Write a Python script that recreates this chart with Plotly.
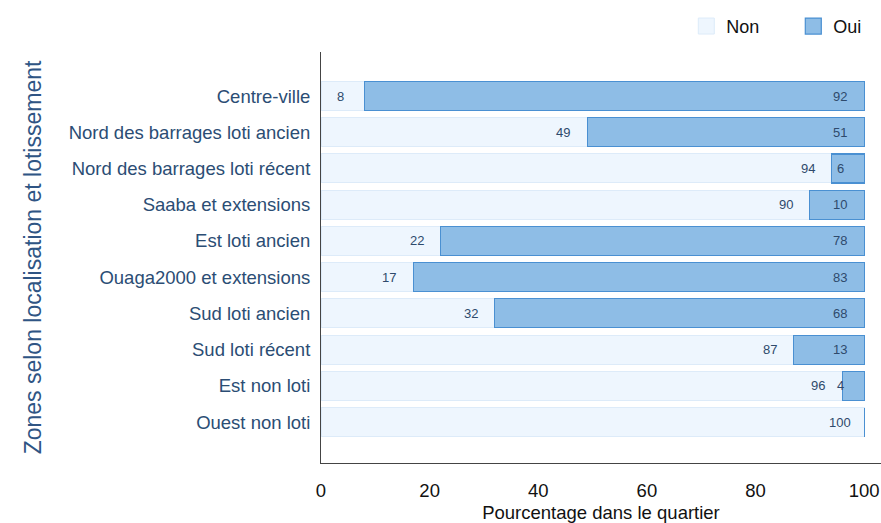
import plotly.graph_objects as go

zones = ["Centre-ville", "Nord des barrages loti ancien", "Nord des barrages loti récent",
         "Saaba et extensions", "Est loti ancien", "Ouaga2000 et extensions",
         "Sud loti ancien", "Sud loti récent", "Est non loti", "Ouest non loti"]
non_vals = [8, 49, 94, 90, 22, 17, 32, 87, 96, 100]
oui_vals = [92, 51, 6, 10, 78, 83, 68, 13, 4, 0]

NON_FILL = "#EEF6FE"
NON_LINE = "#DDEBF9"
OUI_FILL = "#8EBDE6"
OUI_LINE = "#4A90D2"
LABEL_C = "#2E4A6C"
TICK_C = "#2B4D74"
FONT = "Liberation Sans, Arial, Helvetica, sans-serif"

fig = go.Figure()
fig.add_trace(go.Bar(y=zones, x=non_vals, orientation="h", name="Non",
                     marker=dict(color=NON_FILL, line=dict(color=NON_LINE, width=1)),
                     width=0.8, showlegend=False, hoverinfo="x+y"))
fig.add_trace(go.Bar(y=zones, x=oui_vals, orientation="h", name="Oui",
                     marker=dict(color=OUI_FILL, line=dict(color=OUI_LINE, width=1.2)),
                     width=0.8, showlegend=False, hoverinfo="x+y"))

# legend entries with large square swatches
fig.add_trace(go.Scatter(x=[None], y=[None], mode="markers", name="Non",
                         marker=dict(symbol="square", size=25, color=NON_FILL,
                                     line=dict(color=NON_LINE, width=1))))
fig.add_trace(go.Scatter(x=[None], y=[None], mode="markers", name="Oui",
                         marker=dict(symbol="square", size=25, color=OUI_FILL,
                                     line=dict(color=OUI_LINE, width=1.2))))

annotations = []
for z, n, o in zip(zones, non_vals, oui_vals):
    if n > 0:
        annotations.append(dict(x=n, y=z, xref="x", yref="y", text=str(n), showarrow=False,
                                xshift=-24, font=dict(size=13, color=LABEL_C)))
    if o > 0:
        annotations.append(dict(x=n + o, y=z, xref="x", yref="y", text=str(o), showarrow=False,
                                xshift=-24, font=dict(size=13, color=LABEL_C)))

n_cat = len(zones)
fig.update_layout(
    barmode="stack",
    width=881, height=523,
    margin=dict(l=321, r=0, t=52, b=60, autoexpand=False),
    plot_bgcolor="white", paper_bgcolor="white",
    font=dict(family=FONT, size=18, color="#111111"),
    annotations=annotations,
    legend=dict(orientation="h", x=0.779, xanchor="left", xref="container",
                y=0.985, yanchor="top", yref="container",
                font=dict(size=18, color="#111111"),
                itemwidth=30, entrywidth=62, entrywidthmode="pixels",
                traceorder="normal", bgcolor="rgba(0,0,0,0)"),
    showlegend=True,
)
fig.update_xaxes(range=[0, 103.1], tickvals=[0, 20, 40, 60, 80, 100], showgrid=False,
                 zeroline=False, showline=True, linecolor="#444444", linewidth=1,
                 ticks="outside", ticklen=11, tickcolor="rgba(0,0,0,0)",
                 tickfont=dict(size=18.5, color="#111111"), automargin=False,
                 title=dict(text="Pourcentage dans le quartier", font=dict(size=18.5, color="#111111"),
                            standoff=9))
fig.update_yaxes(categoryorder="array", categoryarray=zones,
                 range=[n_cat - 1 + 1.13, -1.215], showgrid=False, zeroline=False,
                 showline=True, linecolor="#444444", linewidth=1,
                 ticks="outside", ticklen=6, tickcolor="rgba(0,0,0,0)",
                 tickfont=dict(size=18.5, color=TICK_C), automargin=False,
                 title=dict(text="Zones selon localisation et lotissement",
                            font=dict(size=23, color="#2F5584"), standoff=20))

fig.write_html("out.html", config={"displayModeBar": False},
               post_script="document.body.style.margin='0px';")
